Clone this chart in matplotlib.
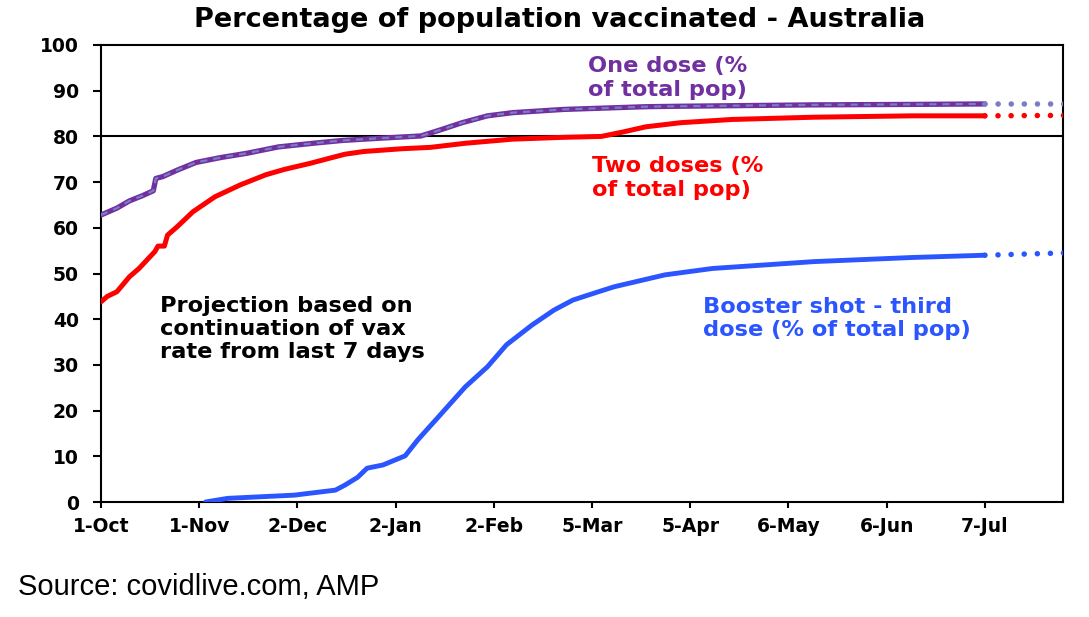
import matplotlib
matplotlib.use('Agg')
import matplotlib.pyplot as plt

# ---------------- data (days since 1-Oct-2021, % of total population) ----------------
tick_days = [0, 31, 62, 93, 124, 155, 186, 217, 248, 279]
tick_labels = ['1-Oct', '1-Nov', '2-Dec', '2-Jan', '2-Feb', '5-Mar', '5-Apr', '6-May', '6-Jun', '7-Jul']

one_dose_days = [0, 5, 9, 13, 16.5, 17.3, 19.5, 24, 30, 38, 46, 56, 67, 76, 88, 101, 107, 114, 122, 130, 146, 172, 183, 225, 256, 279]
one_dose_vals = [62.8, 64.3, 65.9, 67.0, 68.1, 70.8, 71.2, 72.6, 74.3, 75.4, 76.3, 77.7, 78.5, 79.1, 79.6, 80.1, 81.4, 83.0, 84.5, 85.2, 85.9, 86.5, 86.6, 86.9, 87.0, 87.1]

two_dose_days = [0, 2, 5, 9, 12, 17, 18, 20, 21, 24, 29, 36, 44, 52, 58, 66, 72, 77, 83, 95, 104, 115, 130, 146, 158, 165, 172, 183, 199, 225, 256, 279]
two_dose_vals = [43.8, 45.0, 46.0, 49.3, 51.1, 54.8, 56.0, 56.0, 58.4, 60.2, 63.5, 66.8, 69.4, 71.6, 72.8, 74.1, 75.2, 76.1, 76.7, 77.3, 77.6, 78.5, 79.4, 79.8, 80.0, 81.0, 82.1, 83.0, 83.7, 84.2, 84.5, 84.5]

booster_days = [33, 40, 61, 74, 77, 81, 84, 89, 96, 100, 107, 115, 122, 128, 136, 143, 149, 157, 162, 178, 193, 225, 256, 279]
booster_vals = [0.0, 0.8, 1.5, 2.6, 3.7, 5.4, 7.4, 8.1, 10.1, 13.6, 19.0, 25.2, 29.6, 34.4, 38.7, 42.0, 44.2, 46.0, 47.1, 49.7, 51.1, 52.6, 53.5, 54.0]

proj_days = [279, 304]
one_dose_proj = [87.1, 87.1]
two_dose_proj = [84.5, 84.6]
booster_proj = [54.0, 54.5]

title = 'Percentage of population vaccinated - Australia'
source = 'Source: covidlive.com, AMP'

# ---------------- figure ----------------
W, H = 1089, 617
fig = plt.figure(figsize=(W / 100, H / 100), dpi=100)
L, R, T, B = 101, 1063, 45, 502
ax = fig.add_axes([L / W, 1 - B / H, (R - L) / W, (B - T) / H])

PURPLE = '#7030A0'
PURPLE_DOT = '#7C7CC4'
RED = '#FF0000'
BLUE = '#2B55FF'

ax.axhline(80, color='black', lw=1.5, zorder=2)

ax.plot(two_dose_days, two_dose_vals, color=RED, lw=3.6, solid_joinstyle='round', solid_capstyle='round', zorder=3)
ax.plot(proj_days, two_dose_proj, color=RED, lw=4, linestyle=(0, (0.01, 2.35)), dash_capstyle='round', zorder=3)

ax.plot(one_dose_days, one_dose_vals, color=PURPLE, lw=3.8, solid_joinstyle='round', solid_capstyle='round', zorder=4)
ax.plot(one_dose_days, one_dose_vals, color=PURPLE_DOT, lw=1.6, dashes=(3.2, 2.7), zorder=5)
ax.plot(proj_days, one_dose_proj, color=PURPLE_DOT, lw=4, linestyle=(0, (0.01, 2.35)), dash_capstyle='round', zorder=4)

ax.plot(booster_days, booster_vals, color=BLUE, lw=3.5, solid_joinstyle='round', solid_capstyle='round', zorder=3)
ax.plot(proj_days, booster_proj, color=BLUE, lw=4, linestyle=(0, (0.01, 2.35)), dash_capstyle='round', zorder=3)

ax.set_xlim(0, (R - L) / 3.168)
ax.set_ylim(0, 100)
ax.set_yticks(range(0, 101, 10))
ax.set_xticks(tick_days)
ax.set_xticklabels(tick_labels)

for s in ax.spines.values():
    s.set_linewidth(1.5)
    s.set_color('black')

ax.tick_params(axis='y', direction='out', length=6, width=1.5, pad=10, labelsize=13.5)
ax.tick_params(axis='x', direction='out', length=4.5, width=1.5, pad=6, labelsize=13.5)
for lab in ax.get_xticklabels() + ax.get_yticklabels():
    lab.set_fontweight('bold')
    lab.set_family('DejaVu Sans')


def px(x, y):
    return x / W, 1 - y / H


def block(lines, x, y0, pitch, color, size=16.2):
    for i, line in enumerate(lines):
        fx, fy = px(x, y0 + i * pitch)
        fig.text(fx, fy, line, color=color, fontsize=size, fontweight='bold',
                 family='DejaVu Sans', ha='left', va='baseline')


block(['One dose (%', 'of total pop)'], 588, 72, 23.5, PURPLE)
block(['Two doses (%', 'of total pop)'], 592, 172, 24, RED)
block(['Booster shot - third', 'dose (% of total pop)'], 703, 313, 23.5, BLUE)
block(['Projection based on', 'continuation of vax', 'rate from last 7 days'], 160, 312, 23, 'black')

tx, ty = px(560, 20)
fig.text(tx, ty, title, ha='center', va='center', fontsize=19.5, fontweight='bold', family='DejaVu Sans')

sx, sy = px(18, 595)
fig.text(sx, sy, source, ha='left', va='baseline', fontsize=21, family=['Liberation Sans', 'DejaVu Sans'])

fig.savefig('out.png', dpi=100)
